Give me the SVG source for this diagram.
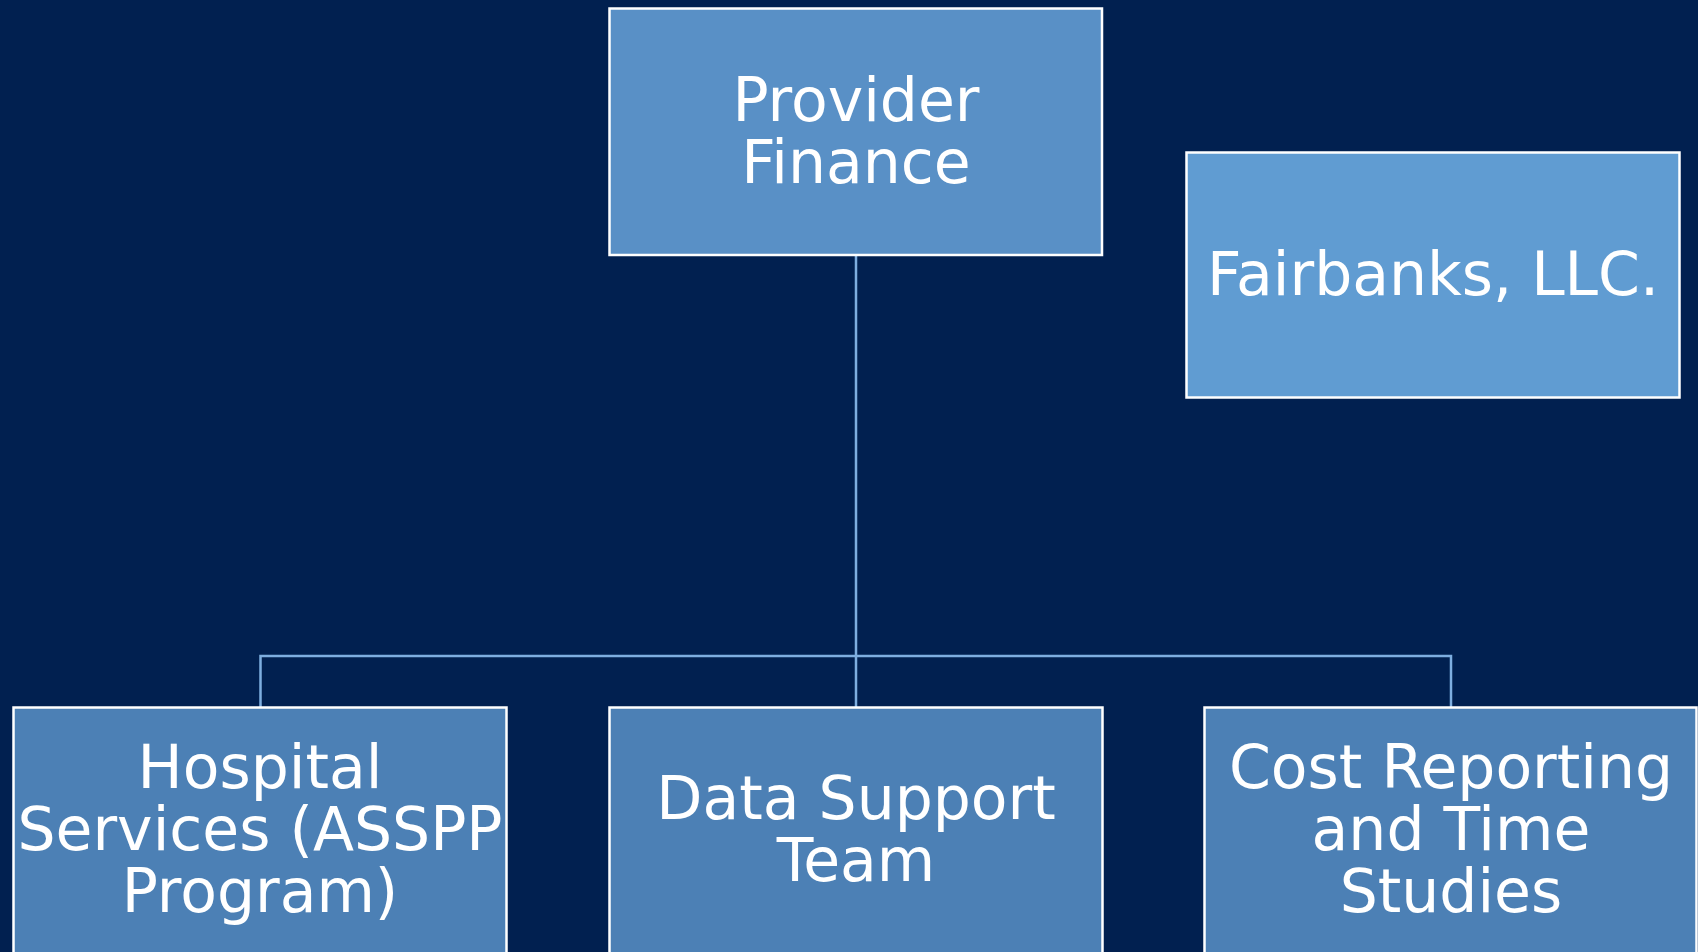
<svg xmlns="http://www.w3.org/2000/svg" width="1698" height="952" viewBox="0 0 1698 952">
  <style>
    .box { stroke: #ffffff; stroke-width: 2.5; }
    .top { fill: #5990c6; }
    .side { fill: #609cd2; }
    .low { fill: #4c80b5; }
    .label { font-family: "DejaVu Sans", Verdana, sans-serif; font-size: 60px; fill: #ffffff; text-anchor: middle; }
    .link { fill: none; stroke: #7eaee0; stroke-width: 2.5; }
  </style>
  <rect x="0" y="0" width="1698" height="952" fill="#012050"/>

  <g id="connectors">
    <path class="link" d="M856 255 V707"/>
    <path class="link" d="M260.5 707 V656 H1451 V707"/>
  </g>

  <g id="provider-finance">
    <rect class="box top" x="609.5" y="8.5" width="492.5" height="246.5"/>
    <text class="label" x="856" y="120.5">Provider</text>
    <text class="label" x="856" y="182.5">Finance</text>
  </g>

  <g id="fairbanks">
    <rect class="box side" x="1186.5" y="152.5" width="493" height="245"/>
    <text class="label" x="1433" y="295">Fairbanks, LLC.</text>
  </g>

  <g id="hospital-services">
    <rect class="box low" x="13.5" y="707.5" width="493" height="260"/>
    <text class="label" x="260" y="788">Hospital</text>
    <text class="label" x="260" y="850">Services (ASSPP</text>
    <text class="label" x="260" y="912">Program)</text>
  </g>

  <g id="data-support">
    <rect class="box low" x="609.5" y="707.5" width="493" height="260"/>
    <text class="label" x="856" y="818.5">Data Support</text>
    <text class="label" x="856" y="881">Team</text>
  </g>

  <g id="cost-reporting">
    <rect class="box low" x="1204.5" y="707.5" width="492" height="260"/>
    <text class="label" x="1451" y="788">Cost Reporting</text>
    <text class="label" x="1451" y="850">and Time</text>
    <text class="label" x="1451" y="912">Studies</text>
  </g>
</svg>
